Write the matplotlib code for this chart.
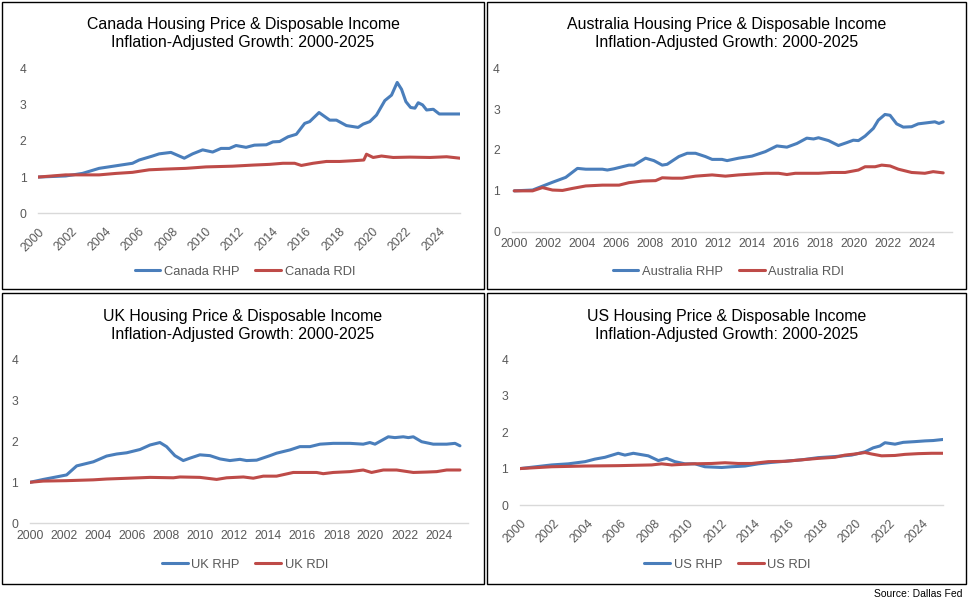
import matplotlib
matplotlib.use("Agg")
import matplotlib.pyplot as plt
from matplotlib.patches import Rectangle

plt.rcParams['font.family'] = ['Liberation Sans', 'DejaVu Sans']

# ---------------- data (decimal years, index 2000 = 1) ----------------
can_rhp_x = [2000.0, 2001.64, 2002.64, 2003.64, 2004.64, 2005.64, 2006.04, 2006.84, 2007.24, 2007.94,
             2008.74, 2009.24, 2009.84, 2010.44, 2010.94, 2011.44, 2011.84, 2012.44, 2012.94, 2013.65,
             2014.05, 2014.45, 2014.95, 2015.45, 2015.95, 2016.25, 2016.81, 2017.45, 2017.85, 2018.45,
             2019.15, 2019.45, 2019.85, 2020.25, 2020.75, 2021.15, 2021.49, 2021.75, 2022.01, 2022.29,
             2022.55, 2022.75, 2023.01, 2023.25, 2023.65, 2024.01, 2024.55, 2025.25]
can_rhp_y = [1.00, 1.03, 1.10, 1.24, 1.31, 1.38, 1.47, 1.58, 1.64, 1.68,
             1.52, 1.64, 1.75, 1.69, 1.79, 1.79, 1.87, 1.82, 1.88, 1.89,
             1.97, 1.98, 2.11, 2.18, 2.48, 2.53, 2.78, 2.57, 2.57, 2.42,
             2.37, 2.46, 2.53, 2.71, 3.11, 3.26, 3.61, 3.42, 3.08, 2.92,
             2.90, 3.05, 2.99, 2.85, 2.87, 2.74, 2.74, 2.74]
can_rdi_x = [2000.0, 2001.64, 2003.64, 2004.64, 2005.64, 2006.64, 2007.64, 2008.84, 2010.04, 2011.64,
             2012.85, 2013.85, 2014.65, 2015.35, 2015.75, 2016.45, 2017.25, 2018.05, 2018.85, 2019.49,
             2019.65, 2020.05, 2020.55, 2021.25, 2022.25, 2023.45, 2024.45, 2025.25]
can_rdi_y = [1.00, 1.06, 1.06, 1.10, 1.13, 1.20, 1.22, 1.24, 1.28, 1.30,
             1.33, 1.35, 1.38, 1.38, 1.32, 1.38, 1.43, 1.43, 1.45, 1.47,
             1.63, 1.54, 1.58, 1.54, 1.55, 1.54, 1.56, 1.52]

aus_rhp_x = [2000.0, 2001.08, 2001.57, 2002.25, 2003.03, 2003.72, 2004.21, 2005.19, 2005.48, 2005.87,
             2006.36, 2006.75, 2007.05, 2007.73, 2008.22, 2008.71, 2009.0, 2009.69, 2010.18, 2010.67,
             2011.25, 2011.65, 2012.23, 2012.53, 2013.21, 2013.99, 2014.78, 2015.46, 2016.05, 2016.64,
             2017.22, 2017.62, 2017.91, 2018.5, 2019.08, 2019.57, 2019.96, 2020.26, 2020.65, 2021.14,
             2021.43, 2021.82, 2022.12, 2022.51, 2022.9, 2023.39, 2023.78, 2024.37, 2024.76, 2025.0, 2025.25]
aus_rhp_y = [1.00, 1.02, 1.10, 1.21, 1.33, 1.55, 1.53, 1.53, 1.51, 1.54,
             1.59, 1.63, 1.63, 1.80, 1.74, 1.63, 1.65, 1.84, 1.92, 1.92,
             1.84, 1.77, 1.77, 1.74, 1.80, 1.85, 1.96, 2.10, 2.07, 2.16,
             2.29, 2.27, 2.30, 2.23, 2.11, 2.18, 2.24, 2.23, 2.34, 2.53,
             2.73, 2.87, 2.85, 2.64, 2.56, 2.57, 2.64, 2.67, 2.69, 2.65, 2.69]
aus_rdi_x = [2000.0, 2001.08, 2001.66, 2002.25, 2002.84, 2003.43, 2004.21, 2005.19, 2006.17, 2006.75,
             2007.54, 2008.32, 2008.71, 2009.3, 2009.88, 2010.67, 2011.65, 2012.43, 2013.21, 2013.99,
             2014.78, 2015.56, 2016.05, 2016.54, 2017.91, 2018.69, 2019.48, 2020.26, 2020.65, 2021.24,
             2021.63, 2022.12, 2022.61, 2023.39, 2024.17, 2024.66, 2025.25]
aus_rdi_y = [1.00, 1.00, 1.08, 1.02, 1.01, 1.06, 1.12, 1.14, 1.14, 1.20,
             1.24, 1.25, 1.32, 1.31, 1.31, 1.36, 1.39, 1.36, 1.39, 1.41,
             1.43, 1.43, 1.40, 1.43, 1.43, 1.45, 1.45, 1.51, 1.59, 1.59,
             1.63, 1.61, 1.53, 1.45, 1.43, 1.47, 1.44]

uk_rhp_x = [2000.0, 2000.78, 2001.66, 2002.15, 2002.74, 2003.72, 2004.5, 2005.09, 2005.68, 2006.46,
            2007.05, 2007.63, 2008.02, 2008.51, 2009.0, 2009.4, 2009.98, 2010.57, 2011.16, 2011.74,
            2012.33, 2012.72, 2013.31, 2014.09, 2014.48, 2015.27, 2015.85, 2016.44, 2017.03, 2017.81,
            2018.79, 2019.57, 2019.96, 2020.26, 2021.04, 2021.43, 2021.92, 2022.22, 2022.51, 2023.0,
            2023.68, 2024.47, 2024.96, 2025.25]
uk_rhp_y = [1.00, 1.07, 1.14, 1.18, 1.40, 1.50, 1.64, 1.69, 1.72, 1.80,
            1.91, 1.97, 1.87, 1.65, 1.53, 1.59, 1.67, 1.65, 1.57, 1.53,
            1.56, 1.53, 1.54, 1.65, 1.71, 1.79, 1.87, 1.87, 1.93, 1.95,
            1.95, 1.93, 1.97, 1.93, 2.11, 2.09, 2.11, 2.09, 2.11, 1.99,
            1.93, 1.93, 1.95, 1.89]
uk_rdi_x = [2000.0, 2000.78, 2002.15, 2003.72, 2004.5, 2006.46, 2007.05, 2008.42, 2008.81, 2009.98,
            2010.96, 2011.55, 2012.53, 2013.11, 2013.7, 2014.48, 2015.46, 2016.83, 2017.22, 2017.81,
            2018.79, 2019.57, 2020.06, 2020.75, 2021.53, 2022.51, 2023.29, 2023.88, 2024.47, 2025.25]
uk_rdi_y = [1.00, 1.03, 1.04, 1.06, 1.08, 1.11, 1.12, 1.11, 1.13, 1.12,
            1.07, 1.11, 1.13, 1.10, 1.15, 1.15, 1.24, 1.24, 1.21, 1.24,
            1.26, 1.30, 1.24, 1.30, 1.30, 1.24, 1.25, 1.26, 1.30, 1.30]

us_rhp_x = [2000.0, 2001.89, 2002.88, 2003.88, 2004.47, 2005.07, 2005.86, 2006.26, 2006.76, 2007.65,
            2008.25, 2008.75, 2009.24, 2009.84, 2010.44, 2011.03, 2012.03, 2012.62, 2013.42, 2014.21,
            2015.01, 2015.81, 2016.8, 2017.79, 2018.79, 2019.78, 2020.58, 2021.07, 2021.47, 2021.77,
            2022.37, 2022.86, 2023.56, 2024.16, 2024.65, 2025.25]
us_rhp_y = [1.00, 1.10, 1.13, 1.19, 1.26, 1.31, 1.42, 1.37, 1.42, 1.35,
            1.22, 1.28, 1.19, 1.13, 1.13, 1.05, 1.03, 1.05, 1.07, 1.13,
            1.17, 1.20, 1.24, 1.30, 1.33, 1.37, 1.46, 1.57, 1.62, 1.71,
            1.67, 1.72, 1.74, 1.76, 1.77, 1.80]
us_rdi_x = [2000.0, 2001.89, 2003.88, 2005.86, 2007.85, 2008.45, 2009.05, 2010.24, 2011.43, 2012.23,
            2013.02, 2013.82, 2014.81, 2015.81, 2016.8, 2017.79, 2018.79, 2019.38, 2019.98, 2020.58,
            2020.98, 2021.57, 2022.37, 2022.96, 2023.76, 2024.56, 2025.25]
us_rdi_y = [1.00, 1.05, 1.07, 1.08, 1.10, 1.13, 1.10, 1.13, 1.14, 1.16,
            1.14, 1.14, 1.19, 1.20, 1.24, 1.28, 1.31, 1.37, 1.40, 1.44,
            1.40, 1.35, 1.36, 1.39, 1.41, 1.42, 1.42]

tick_years = list(range(2000, 2025, 2))
y_ticks = [0, 1, 2, 3, 4]
countries = ["Canada", "Australia", "UK", "US"]
source_text = "Source: Dallas Fed"

# ---------------- styling / layout ----------------
W, H = 969, 607
BLUE = "#4a7ebb"
RED = "#be4b48"
TICK_C = "#595959"

fig = plt.figure(figsize=(W / 100, H / 100), dpi=100)


def fx(px):
    return px / W


def fy(py):
    return 1 - py / H


def add_ax(x0, x1, ytop, ybot):
    return fig.add_axes([fx(x0), fy(ybot), fx(x1) - fx(x0), fy(ytop) - fy(ybot)])


# panel borders
for (l, t, r, b) in [(2, 2, 484, 289), (487, 2, 966, 289), (2, 293, 484, 584), (487, 293, 966, 584)]:
    fig.add_artist(Rectangle((fx(l), fy(b)), fx(r) - fx(l), fy(t) - fy(b),
                             transform=fig.transFigure, fill=False, ec="black", lw=1.0))

panels = [
    dict(name=countries[0], rhp=(can_rhp_x, can_rhp_y), rdi=(can_rdi_x, can_rdi_y),
         box=(38.3, 460.0, 68.3, 213.3), xlim=(2000, 2025.25), rot=True,
         title_y=(24, 43), cx=243, leg=(245, 271.5)),
    dict(name=countries[1], rhp=(aus_rhp_x, aus_rhp_y), rdi=(aus_rdi_x, aus_rdi_y),
         box=(511.7, 951.7, 68.3, 231.7), xlim=(1999.85, 2025.75), rot=False,
         title_y=(24, 43), cx=727, leg=(728.5, 271.5)),
    dict(name=countries[2], rhp=(uk_rhp_x, uk_rhp_y), rdi=(uk_rdi_x, uk_rdi_y),
         box=(30.0, 468.3, 359.3, 523.3), xlim=(2000, 2025.74), rot=False,
         title_y=(316, 334), cx=243, leg=(245, 565)),
    dict(name=countries[3], rhp=(us_rhp_x, us_rhp_y), rdi=(us_rdi_x, us_rdi_y),
         box=(520.0, 943.3, 359.3, 505.0), xlim=(2000, 2025.25), rot=True,
         title_y=(316, 334), cx=727, leg=(727.5, 565)),
]

for p in panels:
    ax = add_ax(*p["box"])
    l1, = ax.plot(p["rhp"][0], p["rhp"][1], color=BLUE, lw=2.2, solid_capstyle="round",
                  label=f"{p['name']} RHP")
    l2, = ax.plot(p["rdi"][0], p["rdi"][1], color=RED, lw=2.2, solid_capstyle="round",
                  label=f"{p['name']} RDI")
    ax.set_xlim(*p["xlim"])
    ax.set_ylim(0, 4)
    for s in ["top", "right", "left"]:
        ax.spines[s].set_visible(False)
    ax.spines["bottom"].set_color("#d9d9d9")
    ax.spines["bottom"].set_linewidth(1.0)
    ax.set_yticks(y_ticks)
    ax.set_yticklabels([str(v) for v in y_ticks])
    ax.set_xticks(tick_years)
    ax.tick_params(axis="both", length=0, colors=TICK_C, labelsize=8.7)
    ax.tick_params(axis="y", pad=8.5)
    ax.patch.set_alpha(0)
    if p["rot"]:
        ax.set_xticklabels([str(t) for t in tick_years], rotation=45, ha="right",
                           va="top", rotation_mode="anchor")
        ax.tick_params(axis="x", pad=9)
    else:
        ax.set_xticklabels([str(t) for t in tick_years])
        ax.tick_params(axis="x", pad=4.5)

    fig.text(fx(p["cx"]), fy(p["title_y"][0]),
             f"{p['name']} Housing Price & Disposable Income",
             ha="center", va="center", fontsize=11.4, color="black")
    fig.text(fx(p["cx"]), fy(p["title_y"][1]),
             "Inflation-Adjusted Growth: 2000-2025",
             ha="center", va="center", fontsize=11.4, color="black")

    fig.legend(handles=[l1, l2], loc="center", bbox_to_anchor=(fx(p["leg"][0]), fy(p["leg"][1])),
               ncol=2, frameon=False, fontsize=9.3, handlelength=2.0, handletextpad=0.3,
               columnspacing=1.2, labelcolor=TICK_C, borderpad=0, borderaxespad=0)

fig.text(fx(963), fy(594), source_text, ha="right", va="center", fontsize=7.5, color="black")

fig.savefig("out.png", dpi=100)
